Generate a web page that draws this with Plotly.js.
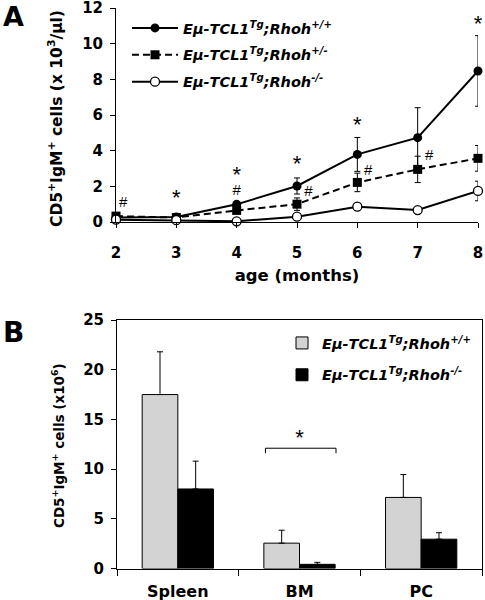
<!DOCTYPE html>
<html>
<head>
<meta charset="utf-8">
<script src="https://cdn.plot.ly/plotly-3.0.1.min.js"></script>
<style>html,body{margin:0;padding:0;background:#fff;}#chart{width:485px;height:600px;}</style>
</head>
<body>
<div id="chart"></div>
<script>
// ---------- Panel A data ----------
const months = [2, 3, 4, 5, 6, 7, 8];
const countTicks = [0, 2, 4, 6, 8, 10, 12];
const wtMean = [0.25, 0.28, 0.99, 2.02, 3.79, 4.73, 8.47];
const wtErr  = [0.05, 0.05, 0.12, 0.45, 0.95, 1.68, 1.98];
const hetMean = [0.33, 0.25, 0.65, 1.00, 2.22, 2.95, 3.57];
const hetErr  = [0.05, 0.05, 0.10, 0.35, 0.52, 0.74, 0.72];
const koMean = [0.13, 0.10, 0.04, 0.30, 0.86, 0.67, 1.74];
const koErr  = [0.04, 0.04, 0.03, 0.08, 0.18, 0.10, 0.55];
const starAX = [3, 4, 5, 6, 8];
const starAY = [1.27, 2.55, 3.16, 5.35, 11.0];
const hashAX = [2.12, 4, 5.19, 6.18, 7.19];
const hashAY = [1.05, 1.75, 1.66, 2.86, 3.66];
const namesA = [
  '<b><i>Eμ-TCL1<sup>Tg</sup>;Rhoh<sup>+/+</sup></i></b>',
  '<b><i>Eμ-TCL1<sup>Tg</sup>;Rhoh<sup>+/-</sup></i></b>',
  '<b><i>Eμ-TCL1<sup>Tg</sup>;Rhoh<sup>-/-</sup></i></b>'
];
// ---------- Panel B data ----------
const tissues = ['Spleen', 'BM', 'PC'];
const tissuePos = [0, 1, 2];
const tissueBounds = [-0.5, 0.5, 1.5, 2.5];
const cellTicks = [0, 5, 10, 15, 20, 25];
const wtTissue = [17.5, 2.55, 7.15];
const wtTissueErr = [4.3, 1.3, 2.3];
const koTissue = [8.0, 0.42, 2.95];
const koTissueErr = [2.8, 0.2, 0.65];
const zeros = [0, 0, 0];
const bracketX = [0.72, 0.72, 1.30, 1.30];
const bracketY = [11.6, 12.1, 12.1, 11.6];
const starBX = [1.0];
const starBY = [13.0];
const namesB = [
  '<b><i>Eμ-TCL1<sup>Tg</sup>;Rhoh<sup>+/+</sup></i></b>',
  '<b><i>Eμ-TCL1<sup>Tg</sup>;Rhoh<sup>-/-</sup></i></b>'
];

const FONT = 'DejaVu Sans';
const errA = (arr) => ({type: 'data', array: arr, visible: true, color: '#000', thickness: 1, width: 3});

const traces = [
  {x: months, y: wtMean, name: namesA[0], type: 'scatter', mode: 'lines+markers', xaxis: 'x', yaxis: 'y',
   line: {color: '#000', width: 2}, marker: {symbol: 'circle', size: 9, color: '#000'},
   error_y: errA(wtErr), cliponaxis: false, legend: 'legend', legendgroup: 'a1'},
  {x: months, y: hetMean, name: namesA[1], type: 'scatter', mode: 'lines+markers', xaxis: 'x', yaxis: 'y',
   line: {color: '#000', width: 2, dash: '7px,4px'}, marker: {symbol: 'square', size: 9, color: '#000'},
   error_y: errA(hetErr), cliponaxis: false, legend: 'legend', legendgroup: 'a2'},
  {x: months, y: koMean, name: namesA[2], type: 'scatter', mode: 'lines+markers', xaxis: 'x', yaxis: 'y',
   line: {color: '#000', width: 2}, marker: {symbol: 'circle', size: 9, color: '#fff', line: {color: '#000', width: 1.3}},
   error_y: errA(koErr), cliponaxis: false, legend: 'legend', legendgroup: 'a3'},
  {x: starAX, y: starAY, type: 'scatter', mode: 'text', text: starAX.map(() => '*'), xaxis: 'x', yaxis: 'y',
   textfont: {family: 'Liberation Sans', size: 22, color: '#000'}, showlegend: false, cliponaxis: false, hoverinfo: 'skip'},
  {x: hashAX, y: hashAY, type: 'scatter', mode: 'text', text: hashAX.map(() => '#'), xaxis: 'x', yaxis: 'y',
   textfont: {family: 'Liberation Sans', size: 15, color: '#000'}, showlegend: false, cliponaxis: false, hoverinfo: 'skip'},

  {x: tissuePos, y: wtTissue, name: namesB[0], type: 'bar', xaxis: 'x2', yaxis: 'y2',
   marker: {color: '#d3d3d3', line: {color: '#000', width: 1}},
   error_y: {type: 'data', symmetric: false, array: wtTissueErr, arrayminus: zeros, color: '#000', thickness: 1, width: 3},
   legend: 'legend2', legendgroup: 'b1'},
  {x: tissuePos, y: koTissue, name: namesB[1], type: 'bar', xaxis: 'x2', yaxis: 'y2',
   marker: {color: '#000', line: {color: '#000', width: 1}},
   error_y: {type: 'data', symmetric: false, array: koTissueErr, arrayminus: zeros, color: '#000', thickness: 1, width: 3},
   legend: 'legend2', legendgroup: 'b2'},
  {x: bracketX, y: bracketY, type: 'scatter', mode: 'lines', xaxis: 'x3', yaxis: 'y2',
   line: {color: '#000', width: 1}, showlegend: false, hoverinfo: 'skip'},
  {x: starBX, y: starBY, type: 'scatter', mode: 'text', text: ['*'], xaxis: 'x3', yaxis: 'y2',
   textfont: {family: 'Liberation Sans', size: 22, color: '#000'}, showlegend: false, cliponaxis: false, hoverinfo: 'skip'}
];

const tickFont = {family: FONT, size: 15, color: '#000', weight: 'bold'};
const legFont = {family: FONT, size: 14.5, color: '#000'};

const layout = {
  width: 485, height: 600,
  margin: {l: 0, r: 0, t: 0, b: 0},
  paper_bgcolor: '#fff', plot_bgcolor: 'rgba(0,0,0,0)',
  font: {family: FONT, color: '#000'},
  showlegend: true,
  barmode: 'group', bargap: 0.414, bargroupgap: 0,
  xaxis: {domain: [116/485, 478/485], range: [2, 8], anchor: 'y', tickvals: months,
    ticks: 'outside', ticklen: 5, tickcolor: '#000', showline: true, linecolor: '#000', linewidth: 1,
    showgrid: false, zeroline: false, tickfont: tickFont, ticklabelstandoff: 12, ticklabeloverflow: 'allow',
    title: {text: '<b>age (months)</b>', font: {family: FONT, size: 16.5, color: '#000'}, standoff: 8}},
  yaxis: {domain: [378/600, 592/600], range: [0, 12], anchor: 'x', tickvals: countTicks,
    ticks: 'outside', ticklen: 5, tickcolor: '#000', showline: true, linecolor: '#000', linewidth: 1,
    showgrid: false, zeroline: false, tickfont: tickFont, ticklabelstandoff: 4, ticklabeloverflow: 'allow'},
  xaxis2: {domain: [117/485, 482/485], range: [-0.5, 2.5], anchor: 'y2', tickvals: tissuePos, ticktext: tissues,
    ticks: '', showline: true, mirror: true, linecolor: '#000', linewidth: 1, ticklabeloverflow: 'allow',
    showgrid: false, zeroline: false, tickfont: {family: FONT, size: 16, color: '#000', weight: 'bold'}, ticklabelstandoff: 8},
  xaxis3: {domain: [117/485, 482/485], range: [-0.5, 2.5], anchor: 'y2', overlaying: 'x2', tickvals: tissueBounds,
    ticks: 'outside', ticklen: 6, tickcolor: '#000', showticklabels: false, showline: false,
    showgrid: false, zeroline: false},
  yaxis2: {domain: [31.5/600, 280/600], range: [0, 25], anchor: 'x2', tickvals: cellTicks,
    ticks: 'outside', ticklen: 5, tickcolor: '#000', showline: true, mirror: true, linecolor: '#000', linewidth: 1,
    showgrid: false, zeroline: false, tickfont: tickFont, ticklabelstandoff: 4, ticklabeloverflow: 'allow'},
  legend: {x: 127/485, y: 1 - 12/600, xanchor: 'left', yanchor: 'top', bgcolor: 'rgba(0,0,0,0)',
    font: legFont, traceorder: 'grouped', tracegroupgap: 5, itemwidth: 46},
  legend2: {x: 282/485, y: 1 - 327/600, xanchor: 'left', yanchor: 'top', bgcolor: 'rgba(0,0,0,0)',
    font: legFont, traceorder: 'grouped', tracegroupgap: 10},
  annotations: [
    {text: '<b>A</b>', xref: 'paper', yref: 'paper', x: 13/485, y: 1 - 17/600, xanchor: 'center', yanchor: 'middle',
     showarrow: false, font: {family: FONT, size: 27, color: '#000'}},
    {text: '<b>B</b>', xref: 'paper', yref: 'paper', x: 13.5/485, y: 1 - 332/600, xanchor: 'center', yanchor: 'middle',
     showarrow: false, font: {family: FONT, size: 28, color: '#000'}},
    {text: '<b>CD5<sup>+</sup>IgM<sup>+</sup> cells (x 10<sup>3</sup>/μl)</b>', xref: 'paper', yref: 'paper',
     x: 55/485, y: 1 - 119/600, xanchor: 'center', yanchor: 'middle', textangle: -90, showarrow: false,
     font: {family: FONT, size: 15.5, color: '#000'}},
    {text: '<b>CD5<sup>+</sup>IgM<sup>+</sup> cells (x10<sup>6</sup>)</b>', xref: 'paper', yref: 'paper',
     x: 58/485, y: 1 - 446/600, xanchor: 'center', yanchor: 'middle', textangle: -90, showarrow: false,
     font: {family: FONT, size: 13.5, color: '#000'}}
  ]
};

Plotly.newPlot('chart', traces, layout, {staticPlot: true, displayModeBar: false});
</script>
</body>
</html>
